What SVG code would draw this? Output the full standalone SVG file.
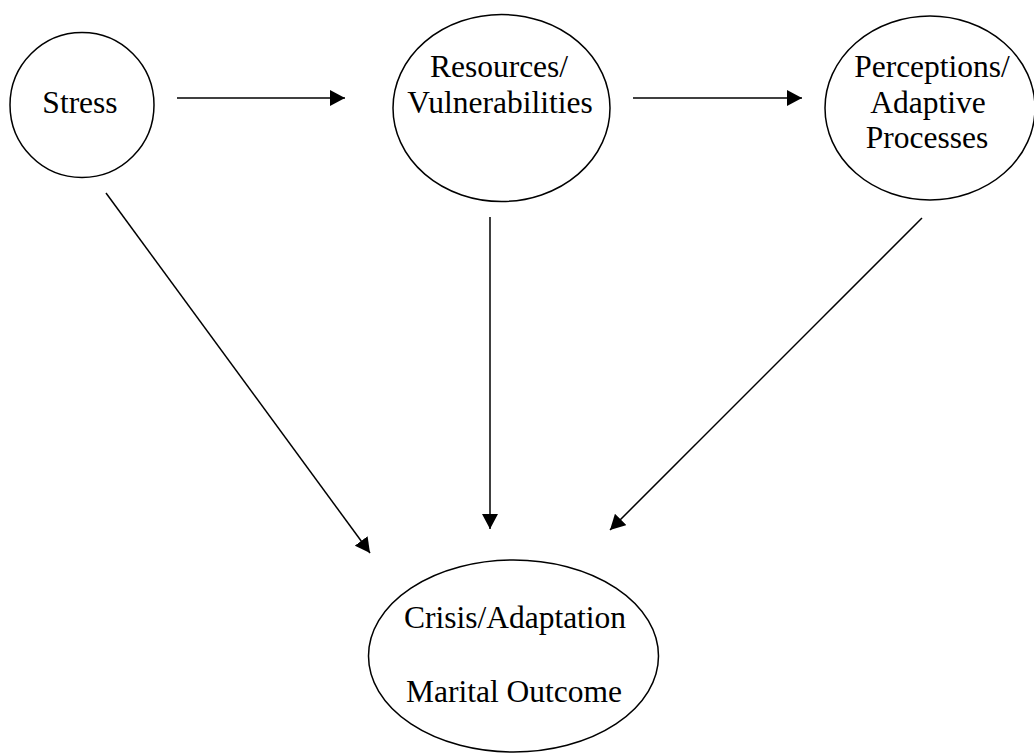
<svg xmlns="http://www.w3.org/2000/svg" width="1034" height="753" viewBox="0 0 1034 753">
  <style>
    .node { fill: #ffffff; stroke: #000000; stroke-width: 1.5; }
    .label { font-size: 31.5px; fill: #000000; text-anchor: middle; }
    .edge { stroke: #000000; stroke-width: 1.5; fill: none; marker-end: url(#arrow); }
  </style>
  <defs>
    <marker id="arrow" markerUnits="userSpaceOnUse" markerWidth="16" markerHeight="16" refX="15" refY="8" orient="auto">
      <path d="M0,0 L15,8 L0,16 Z" fill="#000000"/>
    </marker>
  </defs>
  <rect width="1034" height="753" fill="#ffffff"/>

  <g id="connectors">
    <line class="edge" x1="177" y1="98" x2="345" y2="98"/>
    <line class="edge" x1="633" y1="98" x2="802" y2="98"/>
    <line class="edge" x1="106" y1="193" x2="370" y2="553"/>
    <line class="edge" x1="490" y1="217" x2="490" y2="529"/>
    <line class="edge" x1="922" y1="218" x2="610" y2="530"/>
  </g>

  <g font-family="'Liberation Serif', 'Times New Roman', 'DejaVu Serif', serif">
    <g id="stress">
      <ellipse class="node" cx="82" cy="105" rx="72" ry="72.5"/>
      <text class="label" x="80" y="113">Stress</text>
    </g>

    <g id="resources">
      <ellipse class="node" cx="501.5" cy="108" rx="108.5" ry="93.5"/>
      <text class="label" x="499" y="77">Resources/</text>
      <text class="label" x="500" y="113">Vulnerabilities</text>
    </g>

    <g id="perceptions">
      <ellipse class="node" cx="930" cy="108" rx="105" ry="92"/>
      <text class="label" x="932" y="77">Perceptions/</text>
      <text class="label" x="928" y="112.5">Adaptive</text>
      <text class="label" x="927" y="148">Processes</text>
    </g>

    <g id="outcome">
      <ellipse class="node" cx="513.5" cy="656" rx="145" ry="96"/>
      <text class="label" x="515" y="628">Crisis/Adaptation</text>
      <text class="label" x="514" y="702">Marital Outcome</text>
    </g>
  </g>
</svg>
